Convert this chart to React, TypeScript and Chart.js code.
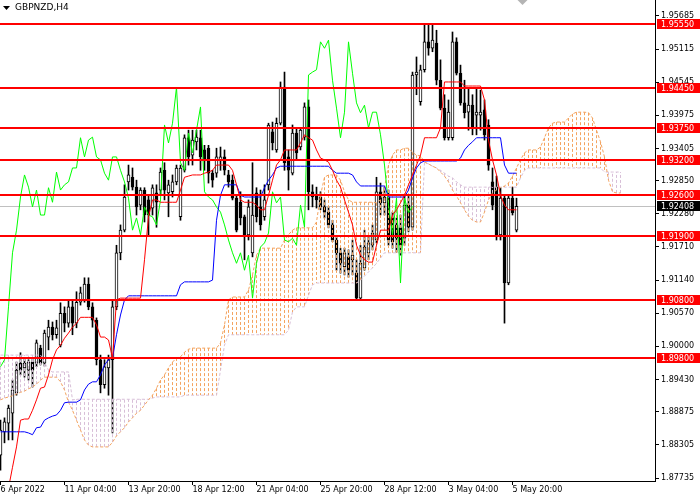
import React, { useEffect, useRef } from "react";
import { Chart, registerables } from "chart.js";
Chart.register(...registerables);

const symbolTitle = "GBPNZD,H4";
const xTickBars = [0, 16, 32, 48, 64, 80, 96, 112, 128];
const xTickLabels = ["6 Apr 2022", "11 Apr 04:00", "13 Apr 20:00", "18 Apr 12:00", "21 Apr 04:00", "25 Apr 20:00", "28 Apr 12:00", "3 May 04:00", "5 May 20:00"];
const yTickValues = [1.95685, 1.95115, 1.94545, 1.93975, 1.93405, 1.9285, 1.9228, 1.9171, 1.9114, 1.9057, 1.9, 1.8943, 1.88875, 1.88305, 1.87735];
const levelPrices = [1.9555, 1.9445, 1.9375, 1.932, 1.926, 1.919, 1.908, 1.898];
const currentPrice = 1.92408;

const openP = [1.8813,1.8853,1.8868,1.8885,1.8920,1.8971,1.8963,1.8959,1.8973,1.8971,
1.8997,1.8971,1.9016,1.9033,1.9020,1.9002,1.9057,1.9040,1.9068,1.9040,
1.9076,1.9080,1.9107,1.9068,1.9045,1.8977,1.8934,1.8963,1.8977,1.9068,
1.9161,1.9200,1.9283,1.9291,1.9274,1.9243,1.9269,1.9252,1.9238,1.9264,
1.9269,1.9303,1.9264,1.9266,1.9283,1.9223,1.9303,1.9359,1.9329,1.9352,
1.9359,1.9338,1.9341,1.9298,1.9298,1.9321,1.9326,1.9295,1.9286,1.9255,
1.9248,1.9223,1.9192,1.9161,1.9264,1.9240,1.9223,1.9278,1.9369,1.9338,
1.9384,1.9446,1.9326,1.9298,1.9367,1.9343,1.9360,1.9412,1.9266,1.9260,
1.9257,1.9240,1.9231,1.9209,1.9183,1.9161,1.9137,1.9154,1.9149,1.9126,
1.9083,1.9135,1.9161,1.9174,1.9183,1.9266,1.9247,1.9257,1.9221,1.9209,
1.9204,1.9186,1.9243,1.9205,1.9467,1.9421,1.9476,1.9524,1.9513,1.9522,
1.9458,1.9410,1.9359,1.9359,1.9524,1.9470,1.9419,1.9403,1.9415,1.9398,
1.9398,1.9407,1.9381,1.9283,1.9274,1.9192,1.9255,1.9109,1.9255,1.9200];

const highP = [1.8873,1.8877,1.8899,1.8942,1.8973,1.8989,1.8980,1.8977,1.8980,1.9011,
1.9002,1.9028,1.9045,1.9042,1.9045,1.9075,1.9068,1.9080,1.9080,1.9094,
1.9102,1.9118,1.9118,1.9075,1.9049,1.8985,1.8977,1.8985,1.9080,1.9174,
1.9209,1.9278,1.9312,1.9307,1.9286,1.9273,1.9273,1.9260,1.9278,1.9278,
1.9307,1.9316,1.9286,1.9295,1.9312,1.9312,1.9364,1.9372,1.9372,1.9372,
1.9372,1.9346,1.9346,1.9303,1.9341,1.9343,1.9338,1.9303,1.9295,1.9260,
1.9266,1.9226,1.9252,1.9316,1.9273,1.9269,1.9278,1.9384,1.9386,1.9393,
1.9455,1.9472,1.9338,1.9381,1.9376,1.9376,1.9419,1.9424,1.9278,1.9274,
1.9266,1.9252,1.9240,1.9217,1.9188,1.9169,1.9169,1.9166,1.9183,1.9149,
1.9174,1.9200,1.9188,1.9209,1.9291,1.9281,1.9274,1.9269,1.9231,1.9221,
1.9226,1.9260,1.9260,1.9472,1.9498,1.9484,1.9553,1.9555,1.9555,1.9544,
1.9493,1.9433,1.9424,1.9541,1.9531,1.9484,1.9458,1.9445,1.9433,1.9445,
1.9441,1.9424,1.9390,1.9307,1.9293,1.9273,1.9260,1.9260,1.9274,1.9255];

const lowP = [1.8787,1.8834,1.8839,1.8839,1.8916,1.8951,1.8947,1.8942,1.8930,1.8965,
1.8968,1.8966,1.8994,1.9011,1.9014,1.8999,1.9025,1.9033,1.9020,1.9032,
1.9071,1.9076,1.9063,1.9033,1.8968,1.8920,1.8928,1.8916,1.8851,1.9063,
1.9149,1.9197,1.9269,1.9269,1.9226,1.9235,1.9214,1.9192,1.9226,1.9205,
1.9260,1.9252,1.9223,1.9257,1.9278,1.9217,1.9300,1.9312,1.9312,1.9338,
1.9303,1.9303,1.9281,1.9274,1.9291,1.9303,1.9295,1.9274,1.9252,1.9197,
1.9209,1.9149,1.9183,1.9154,1.9214,1.9200,1.9217,1.9269,1.9338,1.9334,
1.9381,1.9303,1.9269,1.9295,1.9321,1.9338,1.9355,1.9235,1.9240,1.9238,
1.9235,1.9221,1.9204,1.9180,1.9131,1.9126,1.9123,1.9119,1.9123,1.9080,
1.9080,1.9131,1.9149,1.9166,1.9178,1.9226,1.9226,1.9174,1.9169,1.9162,
1.9157,1.9174,1.9197,1.9200,1.9433,1.9415,1.9472,1.9501,1.9507,1.9450,
1.9407,1.9355,1.9355,1.9355,1.9467,1.9415,1.9393,1.9372,1.9364,1.9364,
1.9372,1.9355,1.9303,1.9235,1.9183,1.9183,1.9040,1.9106,1.9226,1.9197];

const closeP = [1.8856,1.8870,1.8894,1.8925,1.8959,1.8959,1.8971,1.8973,1.8959,1.9006,
1.8971,1.9023,1.9033,1.9020,1.9032,1.9057,1.9040,1.9068,1.9040,1.9076,
1.9092,1.9107,1.9068,1.9045,1.8977,1.8934,1.8965,1.8977,1.9068,1.9161,
1.9200,1.9257,1.9295,1.9274,1.9240,1.9269,1.9226,1.9226,1.9273,1.9248,
1.9300,1.9269,1.9278,1.9283,1.9307,1.9307,1.9359,1.9326,1.9355,1.9360,
1.9326,1.9321,1.9298,1.9286,1.9326,1.9326,1.9303,1.9283,1.9255,1.9200,
1.9221,1.9192,1.9240,1.9226,1.9223,1.9209,1.9252,1.9381,1.9350,1.9384,
1.9446,1.9316,1.9303,1.9367,1.9333,1.9372,1.9412,1.9266,1.9257,1.9252,
1.9240,1.9231,1.9209,1.9183,1.9161,1.9143,1.9161,1.9131,1.9157,1.9083,
1.9143,1.9171,1.9178,1.9195,1.9266,1.9247,1.9257,1.9183,1.9180,1.9186,
1.9174,1.9243,1.9205,1.9467,1.9472,1.9476,1.9524,1.9513,1.9527,1.9458,
1.9410,1.9359,1.9403,1.9524,1.9470,1.9419,1.9402,1.9415,1.9376,1.9403,
1.9403,1.9364,1.9312,1.9243,1.9192,1.9255,1.9109,1.9255,1.9230,1.92408];

const tenkan = [1.8727,1.8736,1.8756,1.8792,1.8827,1.8873,1.8875,1.8875,1.8890,1.8908,
1.8928,1.8930,1.8951,1.8977,1.8994,1.9002,1.9014,1.9023,1.9033,1.9040,
1.9050,1.9050,1.9050,1.9050,1.9037,1.9016,1.9016,1.9011,1.8980,1.9080,
1.9083,1.9083,1.9083,1.9083,1.9083,1.9083,1.9149,1.9223,1.9252,1.9252,
1.9248,1.9248,1.9248,1.9248,1.9248,1.9269,1.9291,1.9293,1.9295,1.9295,
1.9295,1.9298,1.9300,1.9303,1.9312,1.9312,1.9312,1.9312,1.9303,1.9278,
1.9252,1.9248,1.9248,1.9248,1.9243,1.9235,1.9235,1.9260,1.9286,1.9312,
1.9321,1.9338,1.9338,1.9338,1.9338,1.9350,1.9364,1.9359,1.9355,1.9338,
1.9324,1.9321,1.9317,1.9303,1.9286,1.9274,1.9252,1.9231,1.9209,1.9174,
1.9157,1.9149,1.9145,1.9145,1.9174,1.9200,1.9200,1.9200,1.9226,1.9235,
1.9247,1.9260,1.9278,1.9295,1.9312,1.9329,1.9359,1.9359,1.9359,1.9359,
1.9376,1.9455,1.9455,1.9455,1.9455,1.9455,1.9448,1.9448,1.9448,1.9448,
1.9448,1.9424,1.9355,1.9321,1.9295,1.9260,1.9243,1.9235,1.9235,1.9235];

const kijun = [1.8853,1.8853,1.8853,1.8853,1.8853,1.8853,1.8853,1.8851,1.8848,1.8860,
1.8861,1.8873,1.8877,1.8880,1.8882,1.8890,1.8903,1.8904,1.8904,1.8904,
1.8908,1.8925,1.8935,1.8939,1.8939,1.8951,1.8968,1.8977,1.8980,1.9020,
1.9054,1.9080,1.9087,1.9087,1.9087,1.9087,1.9087,1.9087,1.9087,1.9087,
1.9087,1.9087,1.9087,1.9087,1.9087,1.9106,1.9111,1.9111,1.9111,1.9111,
1.9111,1.9111,1.9111,1.9114,1.9217,1.9260,1.9278,1.9278,1.9278,1.9278,
1.9260,1.9257,1.9257,1.9257,1.9257,1.9257,1.9273,1.9286,1.9295,1.9307,
1.9310,1.9310,1.9310,1.9310,1.9310,1.9310,1.9310,1.9310,1.9310,1.9310,
1.9310,1.9310,1.9310,1.9303,1.9298,1.9298,1.9298,1.9298,1.9295,1.9283,
1.9276,1.9276,1.9276,1.9276,1.9276,1.9276,1.9276,1.9257,1.9257,1.9257,
1.9257,1.9257,1.9269,1.9290,1.9307,1.9316,1.9319,1.9319,1.9319,1.9319,
1.9319,1.9319,1.9319,1.9319,1.9319,1.9324,1.9338,1.9346,1.9352,1.9359,
1.9359,1.9359,1.9359,1.9359,1.9359,1.9359,1.9312,1.9298,1.9298,1.9298];

const chikou = [1.8965,1.8977,1.9068,1.9161,1.9200,1.9257,1.9295,1.9274,1.9240,1.9269,
1.9226,1.9226,1.9273,1.9248,1.9300,1.9269,1.9278,1.9283,1.9307,1.9307,
1.9359,1.9326,1.9355,1.9360,1.9326,1.9321,1.9298,1.9286,1.9326,1.9326,
1.9303,1.9283,1.9255,1.9200,1.9221,1.9192,1.9240,1.9226,1.9223,1.9209,
1.9252,1.9381,1.9350,1.9384,1.9446,1.9316,1.9303,1.9367,1.9333,1.9372,
1.9412,1.9266,1.9257,1.9252,1.9240,1.9231,1.9209,1.9183,1.9161,1.9143,
1.9161,1.9131,1.9157,1.9083,1.9143,1.9171,1.9178,1.9195,1.9266,1.9247,
1.9257,1.9183,1.9180,1.9186,1.9174,1.9243,1.9205,1.9467,1.9472,1.9476,
1.9524,1.9513,1.9527,1.9458,1.9410,1.9359,1.9403,1.9524,1.9470,1.9419,
1.9402,1.9415,1.9376,1.9403,1.9403,1.9364,1.9312,1.9243,1.9192,1.9255,
1.9109,1.9255,1.9230,1.9241];

const spanA = [1.8908,1.8911,1.8913,1.8915,1.8918,1.8921,1.8923,1.8927,1.8930,1.8935,
1.8942,1.8947,1.8947,1.8947,1.8947,1.8939,1.8925,1.8904,1.8890,1.8873,
1.8856,1.8839,1.8830,1.8827,1.8827,1.8827,1.8827,1.8827,1.8835,1.8846,
1.8853,1.8860,1.8870,1.8877,1.8885,1.8890,1.8899,1.8908,1.8916,1.8928,
1.8942,1.8951,1.8963,1.8973,1.8980,1.8982,1.8990,1.8995,1.8997,1.8997,
1.8997,1.8997,1.8997,1.8997,1.8997,1.9006,1.9037,1.9080,1.9085,1.9085,
1.9085,1.9085,1.9097,1.9123,1.9157,1.9169,1.9169,1.9169,1.9169,1.9169,
1.9169,1.9183,1.9192,1.9200,1.9204,1.9204,1.9204,1.9204,1.9204,1.9214,
1.9260,1.9291,1.9295,1.9295,1.9295,1.9286,1.9266,1.9252,1.9248,1.9248,
1.9248,1.9248,1.9248,1.9248,1.9247,1.9252,1.9273,1.9312,1.9329,1.9338,
1.9338,1.9341,1.9341,1.9334,1.9329,1.9328,1.9317,1.9314,1.9310,1.9307,
1.9300,1.9293,1.9283,1.9269,1.9259,1.9247,1.9235,1.9224,1.9217,1.9214,
1.9214,1.9231,1.9252,1.9264,1.9269,1.9273,1.9276,1.9281,1.9293,1.9307,
1.9321,1.9333,1.9338,1.9338,1.9338,1.9343,1.9359,1.9376,1.9384,1.9386,
1.9386,1.9386,1.9393,1.9400,1.9403,1.9403,1.9403,1.9402,1.9393,1.9372,
1.9352,1.9326,1.9286,1.9266,1.9264,1.9264];

const spanB = [1.8985,1.8985,1.8985,1.8985,1.8985,1.8985,1.8985,1.8985,1.8985,1.8985,
1.8985,1.8973,1.8959,1.8956,1.8956,1.8956,1.8956,1.8956,1.8908,1.8909,
1.8909,1.8909,1.8909,1.8909,1.8909,1.8909,1.8909,1.8909,1.8909,1.8909,
1.8909,1.8909,1.8909,1.8909,1.8909,1.8909,1.8909,1.8909,1.8911,1.8913,
1.8913,1.8913,1.8913,1.8913,1.8913,1.8913,1.8916,1.8916,1.8916,1.8916,
1.8916,1.8916,1.8916,1.8916,1.8916,1.8959,1.9002,1.9020,1.9020,1.9020,
1.9020,1.9020,1.9020,1.9020,1.9020,1.9020,1.9020,1.9020,1.9020,1.9020,
1.9020,1.9020,1.9028,1.9059,1.9068,1.9068,1.9068,1.9088,1.9106,1.9109,
1.9109,1.9109,1.9109,1.9109,1.9109,1.9109,1.9109,1.9109,1.9109,1.9109,
1.9114,1.9121,1.9128,1.9135,1.9143,1.9152,1.9161,1.9161,1.9161,1.9161,
1.9161,1.9161,1.9161,1.9161,1.9161,1.9161,1.9317,1.9314,1.9310,1.9307,
1.9303,1.9298,1.9293,1.9290,1.9283,1.9278,1.9274,1.9274,1.9274,1.9274,
1.9274,1.9274,1.9274,1.9274,1.9274,1.9274,1.9274,1.9274,1.9274,1.9274,
1.9290,1.9303,1.9307,1.9307,1.9307,1.9307,1.9307,1.9307,1.9307,1.9307,
1.9307,1.9307,1.9307,1.9307,1.9307,1.9307,1.9307,1.9307,1.9307,1.9307,
1.9307,1.9300,1.9300,1.9300,1.9300,1.9300];

const Y_MIN = 1.876834;
const Y_MAX = 1.959603;
const X_MIN = -0.125;
const X_MAX = 163.625;
const BODY_INDEX = 5;
const AXIS_FONT = "8px 'DejaVu Sans'";

const overlayPlugin: any = {
  id: "mt4Overlay",
  beforeDraw(chart: any) {
    const { ctx, width, height } = chart;
    ctx.save();
    ctx.fillStyle = "#ffffff";
    ctx.fillRect(0, 0, width, height);
    ctx.restore();
  },
  beforeDatasetsDraw(chart: any) {
    const { ctx, chartArea, scales } = chart;
    const py = scales.y.getPixelForValue(currentPrice);
    ctx.save();
    ctx.strokeStyle = "#c0c0c0";
    ctx.lineWidth = 1;
    ctx.beginPath();
    ctx.moveTo(chartArea.left, Math.round(py) + 0.5);
    ctx.lineTo(chartArea.right, Math.round(py) + 0.5);
    ctx.stroke();
    ctx.restore();
  },
  afterDatasetDraw(chart: any, args: any) {
    if (args.index !== BODY_INDEX) return;
    const { ctx, chartArea, scales } = chart;
    ctx.save();
    ctx.beginPath();
    ctx.rect(chartArea.left, chartArea.top, chartArea.right - chartArea.left, chartArea.bottom - chartArea.top);
    ctx.clip();
    ctx.lineWidth = 1;
    ctx.setLineDash([3, 2]);
    for (let i = 0; i < spanA.length; i++) {
      const a = spanA[i];
      const b = spanB[i];
      if (a === b) continue;
      const px = scales.x.getPixelForValue(i);
      ctx.strokeStyle = a > b ? "#f4a460" : "#d8bfd8";
      ctx.beginPath();
      ctx.moveTo(px, scales.y.getPixelForValue(a));
      ctx.lineTo(px, scales.y.getPixelForValue(b));
      ctx.stroke();
    }
    ctx.restore();
  },
  afterDatasetsDraw(chart: any) {
    const { ctx, chartArea, scales } = chart;
    ctx.save();
    ctx.strokeStyle = "#ff0000";
    ctx.lineWidth = 2;
    for (const lv of levelPrices) {
      const py = Math.round(scales.y.getPixelForValue(lv));
      ctx.beginPath();
      ctx.moveTo(chartArea.left, py);
      ctx.lineTo(chartArea.right, py);
      ctx.stroke();
    }
    ctx.restore();
  },
  afterDraw(chart: any) {
    const { ctx, chartArea, scales, width } = chart;
    ctx.save();
    ctx.font = AXIS_FONT;
    ctx.textBaseline = "middle";
    ctx.textAlign = "left";
    const boxLeft = chartArea.right + 2;
    const drawBox = (price: number, bg: string) => {
      const py = Math.round(scales.y.getPixelForValue(price));
      ctx.fillStyle = bg;
      ctx.fillRect(boxLeft, py - 5, width - boxLeft, 10);
      ctx.fillStyle = "#ffffff";
      ctx.fillText(price.toFixed(5), chartArea.right + 6, py + 0.5);
    };
    for (const lv of levelPrices) drawBox(lv, "#ff0000");
    drawBox(currentPrice, "#000000");

    // title with triangle
    ctx.fillStyle = "#000000";
    ctx.beginPath();
    ctx.moveTo(3, 6);
    ctx.lineTo(10, 6);
    ctx.lineTo(6.5, 10);
    ctx.closePath();
    ctx.fill();
    ctx.font = "9px 'DejaVu Sans'";
    ctx.fillText(symbolTitle, 15, 8);

    // chart shift marker
    const sx = scales.x.getPixelForValue(130.5);
    ctx.fillStyle = "#b4b4b4";
    ctx.beginPath();
    ctx.moveTo(sx - 5, 0);
    ctx.lineTo(sx + 5, 0);
    ctx.lineTo(sx, 5);
    ctx.closePath();
    ctx.fill();
    ctx.restore();
  },
};

export default function App() {
  const ref = useRef<HTMLCanvasElement>(null);
  useEffect(() => {
    const canvas = ref.current as HTMLCanvasElement;
    const bodies = openP.map((o, i) => ({ x: i, y: [Math.min(o, closeP[i]), Math.max(o, closeP[i])] }));
    const wicks = highP.map((h, i) => ({ x: i, y: [lowP[i], h] }));
    const bodyColors = openP.map((o, i) => (closeP[i] > o ? "#ffffff" : "#000000"));
    const toPts = (arr: number[]) => arr.map((v, i) => ({ x: i, y: v }));
    const lineBase: any = { type: "line", pointRadius: 0, pointHoverRadius: 0, borderWidth: 1, tension: 0, fill: false };

    const chart = new Chart(canvas, {
      type: "bar",
      data: {
        datasets: [
          { ...lineBase, label: "Tenkan-sen", data: toPts(tenkan), borderColor: "#ff0000", order: 1 },
          { ...lineBase, label: "Kijun-sen", data: toPts(kijun), borderColor: "#0000ff", order: 2 },
          { ...lineBase, label: "Chikou Span", data: toPts(chikou), borderColor: "#00ff00", order: 3 },
          { ...lineBase, label: "Senkou Span A", data: toPts(spanA), borderColor: "#f4a460", borderDash: [3, 2], order: 4 },
          { ...lineBase, label: "Senkou Span B", data: toPts(spanB), borderColor: "#d8bfd8", borderDash: [3, 2], order: 5 },
          {
            type: "bar", label: "Body", data: bodies, backgroundColor: bodyColors, borderColor: "#000000",
            borderWidth: 1, borderSkipped: false, barThickness: 3, grouped: false, minBarLength: 1, order: 10,
          } as any,
          {
            type: "bar", label: "Wick", data: wicks, backgroundColor: "#000000", borderWidth: 0,
            barThickness: 1, grouped: false, order: 11,
          } as any,
        ],
      } as any,
      options: {
        animation: false,
        responsive: false,
        events: [],
        layout: { padding: 0 },
        plugins: { legend: { display: false }, tooltip: { enabled: false }, title: { display: false } },
        scales: {
          x: {
            type: "linear",
            min: X_MIN,
            max: X_MAX,
            offset: false,
            afterBuildTicks: (s: any) => { s.ticks = xTickBars.map((v) => ({ value: v })); },
            afterFit: (s: any) => { s.height = 19; s.paddingLeft = 0; s.paddingRight = 0; },
            ticks: {
              autoSkip: false, maxRotation: 0, minRotation: 0, align: "start", padding: 0, color: "#000000",
              font: { family: "DejaVu Sans", size: 8 },
              callback: (v: any) => { const k = xTickBars.indexOf(Number(v)); return k >= 0 ? xTickLabels[k] : ""; },
            },
            grid: { display: true, drawOnChartArea: false, drawTicks: true, tickLength: 4, color: "#000000", offset: false },
            border: { display: true, color: "#000000" },
          },
          y: {
            type: "linear",
            position: "right",
            min: Y_MIN,
            max: Y_MAX,
            afterBuildTicks: (s: any) => { s.ticks = yTickValues.map((v) => ({ value: v })); },
            afterFit: (s: any) => { s.width = 45; s.paddingTop = 0; s.paddingBottom = 0; },
            ticks: {
              autoSkip: false, padding: 2, color: "#000000",
              font: { family: "DejaVu Sans", size: 8 },
              callback: (v: any) => Number(v).toFixed(5),
            },
            grid: { display: true, drawOnChartArea: false, drawTicks: true, tickLength: 4, color: "#000000" },
            border: { display: true, color: "#000000" },
          },
        },
      } as any,
      plugins: [overlayPlugin],
    });
    return () => chart.destroy();
  }, []);

  return (
    <div style={{ position: "fixed", left: 0, top: 0, width: 700, height: 500, background: "#ffffff" }}>
      <canvas ref={ref} width={700} height={500} style={{ display: "block", width: 700, height: 500 }} />
    </div>
  );
}
